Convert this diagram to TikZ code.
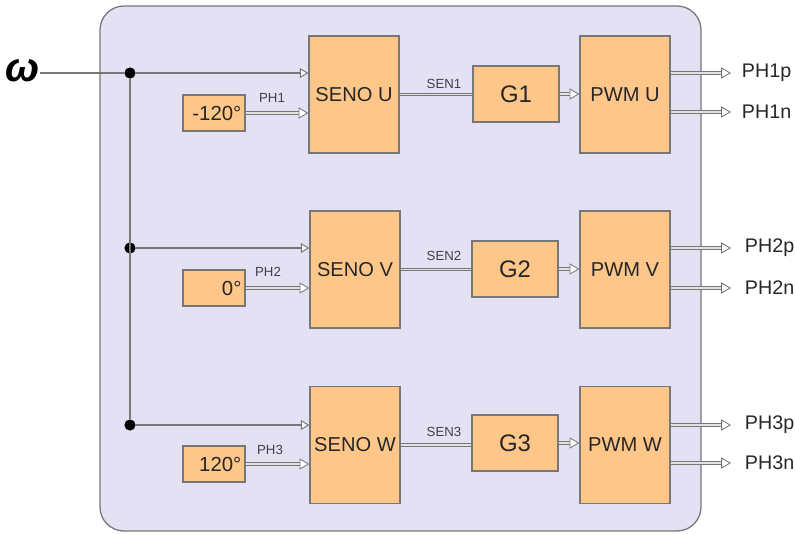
\documentclass[tikz,border=0pt]{standalone}
\usepackage{fontspec}
\setmainfont{Liberation Sans}
\usetikzlibrary{arrows.meta}
\definecolor{panelfill}{HTML}{E4E1F4}
\definecolor{boxfill}{HTML}{FFC68A}
\definecolor{wiregray}{HTML}{777777}
\definecolor{wirelight}{HTML}{E2E2E2}
\definecolor{labelgray}{HTML}{3F3F4F}
\tikzset{
  blockbox/.style={draw=wiregray, fill=boxfill, line width=0.9pt, inner sep=0pt, text=black!85},
  senobox/.style={blockbox, minimum width=2.25cm, minimum height=2.925cm, font=\fontsize{14.3}{16}\selectfont},
  gainbox/.style={blockbox, minimum width=2.15cm, minimum height=1.4cm, font=\fontsize{17}{19}\selectfont},
  phasebox/.style={blockbox, minimum height=0.9cm, text width=1.37cm, inner xsep=0.09cm, align=right, font=\fontsize{14.5}{16}\selectfont},
  busline/.style={draw=wiregray, line width=1.6pt},
  busarrow/.style={busline, -{Triangle[fill=white, length=6pt, width=7pt, line width=0.7pt]}},
  sigline/.style={draw=wiregray, line width=0.6pt, double=wirelight, double distance=1.3pt},
  sigarrow/.style={sigline, -{Triangle[fill=white, length=7pt, width=8pt]}},
  dot/.style={circle, fill=black, inner sep=0pt, minimum size=0.28cm},
  smalllabel/.style={font=\fontsize{9.4}{11}\selectfont, text=labelgray},
  outlabel/.style={font=\fontsize{14}{16}\selectfont, text=black!85, anchor=west}
}
\begin{document}
\begin{tikzpicture}[x=0.025cm, y=-0.025cm]
  \useasboundingbox (0,0) rectangle (795,533);
  \draw[draw=wiregray, fill=panelfill, line width=0.9pt, rounded corners=0.6cm] (100,6) rectangle (701,531);
  \node[inner sep=0pt] (om) at (23,71) {\fontsize{29}{30}\selectfont\bfseries\itshape ω};
  \node[dot] (d1) at (130,73) {}; \node[dot] (d2) at (130,248) {}; \node[dot] (d3) at (130,425) {};
  \node[senobox] (senU) at (354,94.5) {SENO U}; \node[senobox] (senV) at (355,269.5) {SENO V}; \node[senobox] (senW) at (355,445) {SENO W};
  \node[phasebox] (phU) at (214,113) {-120°}; \node[phasebox] (phV) at (214,288) {0°}; \node[phasebox] (phW) at (214,464) {120°};
  \node[gainbox] (gU) at (516,94) {G1}; \node[gainbox] (gV) at (515,269) {G2}; \node[gainbox] (gW) at (515,443) {G3};
  \node[senobox] (pwmU) at (625,94.5) {PWM U}; \node[senobox] (pwmV) at (625,269.5) {PWM V}; \node[senobox] (pwmW) at (625,445) {PWM W};
  \coordinate (o1p) at (731,73); \coordinate (o1n) at (731,112); \coordinate (o2p) at (731,248); \coordinate (o2n) at (731,288);
  \coordinate (o3p) at (731,425); \coordinate (o3n) at (731,463);
  \draw[busline] (om.east |- d1) -- (d1); \draw[busline] (d1) -- (d3);
  \draw[busarrow] (d1) -- (senU.west |- d1); \draw[busarrow] (d2) -- (senV.west |- d2); \draw[busarrow] (d3) -- (senW.west |- d3);
  \draw[sigarrow] (phU) -- (senU.west |- phU); \draw[sigarrow] (phV) -- (senV.west |- phV); \draw[sigarrow] (phW) -- (senW.west |- phW);
  \draw[sigline] (senU) -- (gU.west |- senU); \draw[sigline] (senV) -- (gV.west |- senV); \draw[sigline] (senW) -- (gW.west |- senW);
  \draw[sigarrow] (gU) -- (pwmU.west |- gU); \draw[sigarrow] (gV) -- (pwmV.west |- gV); \draw[sigarrow] (gW) -- (pwmW.west |- gW);
  \draw[sigarrow] (pwmU.east |- o1p) -- (o1p); \draw[sigarrow] (pwmU.east |- o1n) -- (o1n);
  \draw[sigarrow] (pwmV.east |- o2p) -- (o2p); \draw[sigarrow] (pwmV.east |- o2n) -- (o2n);
  \draw[sigarrow] (pwmW.east |- o3p) -- (o3p); \draw[sigarrow] (pwmW.east |- o3n) -- (o3n);
  \node[smalllabel] at (272,98) {PH1}; \node[smalllabel] at (268,272) {PH2}; \node[smalllabel] at (270,450) {PH3};
  \node[smalllabel] at (444,84) {SEN1}; \node[smalllabel] at (444,256) {SEN2}; \node[smalllabel] at (444,432) {SEN3};
  \node[outlabel] at (737,73) {PH1p}; \node[outlabel] at (737,112) {PH1n}; \node[outlabel] at (740,248) {PH2p};
  \node[outlabel] at (740,288) {PH2n}; \node[outlabel] at (740,425) {PH3p}; \node[outlabel] at (740,463) {PH3n};
\end{tikzpicture}
\end{document}
